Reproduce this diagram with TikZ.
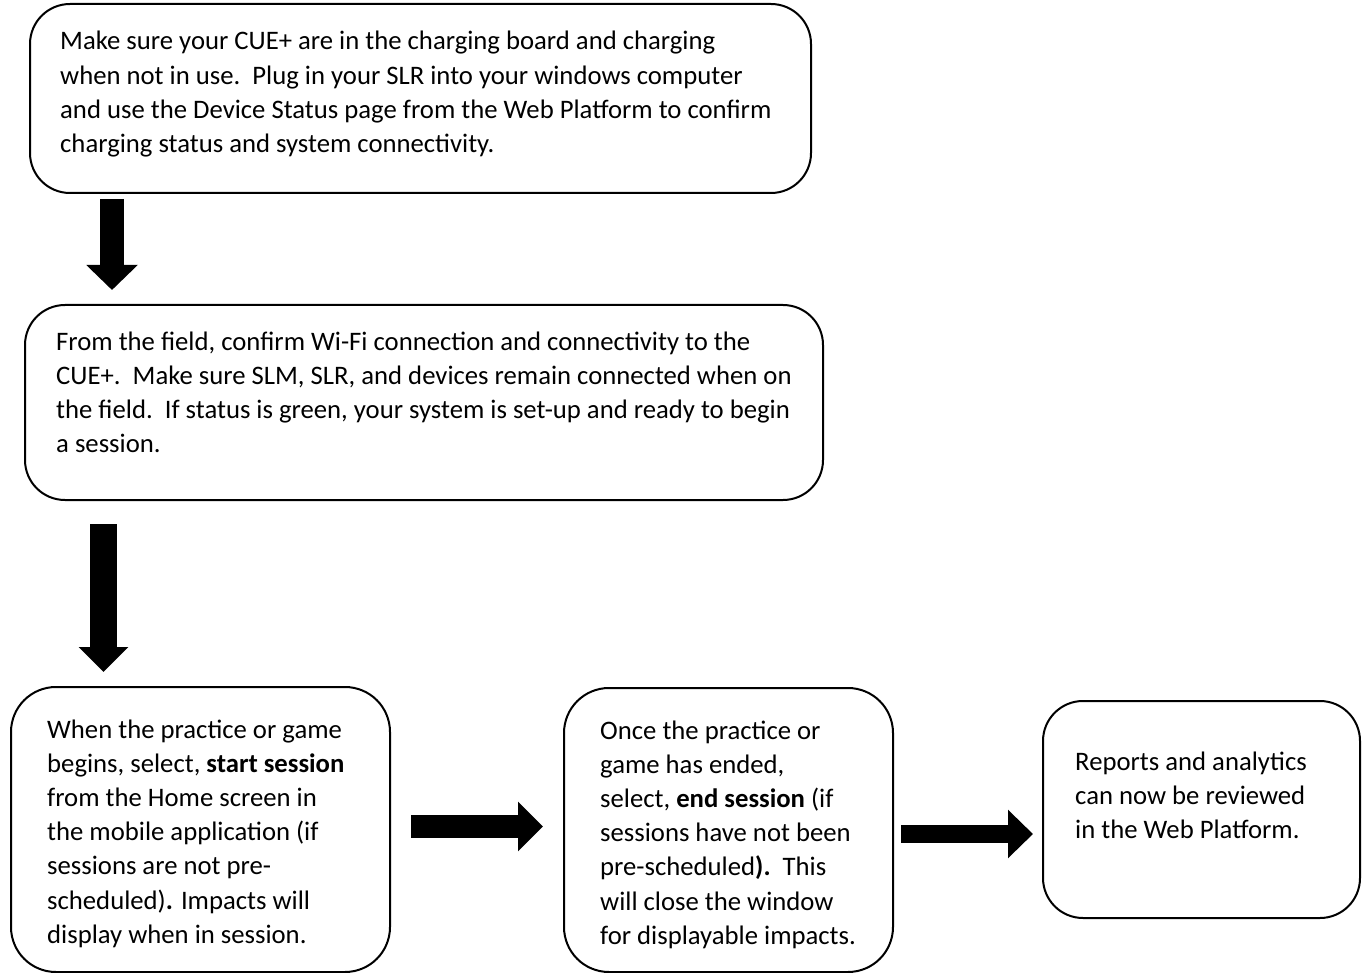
\documentclass[tikz,border=0pt]{standalone}
\usepackage{fontspec}
\setmainfont{Carlito}
\usetikzlibrary{arrows.meta}
\tikzset{
  box/.style={draw=black, line width=2pt, rounded corners=#1, anchor=north west, inner sep=0pt},
  txt/.style={anchor=base west, align=left, inner sep=0pt, font=\fontsize{26.7}{34.2}\selectfont},
  blockarrow/.style n args={3}{line width=#1, -{Triangle[width=#2,length=#3]}}
}
\begin{document}
\begin{tikzpicture}[x=1pt,y=-1pt]
\useasboundingbox (0,0) rectangle (1365,973);
% boxes
\node[box=40pt, minimum width=781pt, minimum height=189pt] (b1) at (29,3) {};
\node[box=40pt, minimum width=798pt, minimum height=195pt] (b2) at (24,304) {};
\node[box=45pt, minimum width=379pt, minimum height=285pt] (b3) at (10,686) {};
\node[box=45pt, minimum width=329pt, minimum height=284pt] (b4) at (563,687) {};
\node[box=40pt, minimum width=317pt, minimum height=217pt] (b5) at (1042,700) {};
% texts (anchored at the baseline of the last line)
\node[txt] (t1) at (60,152.6) {Make sure your CUE+ are in the charging board and charging\\
when not in use.\ \ Plug in your SLR into your windows computer\\
and use the Device Status page from the Web Platform to confirm\\
charging status and system connectivity.};
\node[txt] (t2) at (56,452.6) {From the field, confirm Wi-Fi connection and connectivity to the\\
CUE+.\ \ Make sure SLM, SLR, and devices remain connected when on\\
the field.\ \ If status is green, your system is set-up and ready to begin\\
a session.};
\node[txt] (t3) at (47,943.2) {When the practice or game\\
begins, select, \textbf{start session}\\
from the Home screen in\\
the mobile application (if\\
sessions are not pre-\\
scheduled)\textbf{.} Impacts will\\
display when in session.};
\node[txt] (t4) at (600,944.2) {Once the practice or\\
game has ended,\\
select, \textbf{end session} (if\\
sessions have not been\\
pre-scheduled\textbf{).}\ \ This\\
will close the window\\
for displayable impacts.};
\node[txt] (t5) at (1075,838.4) {Reports and analytics\\
can now be reviewed\\
in the Web Platform.};
% arrows
\draw[blockarrow={24pt}{50pt}{25pt}, shorten <=5pt, shorten >=14pt]
  ([xshift=83pt]b1.south west) -- ([xshift=88pt]b2.north west);
\draw[blockarrow={27pt}{48pt}{25pt}, shorten <=23pt, shorten >=14pt]
  ([xshift=79.5pt]b2.south west) -- ([xshift=93.5pt]b3.north west);
\draw[blockarrow={23pt}{48pt}{25pt}, shorten <=20pt, shorten >=20pt]
  (b3.east |- 0,826.5) -- (b4.west |- 0,826.5);
\draw[blockarrow={18pt}{47pt}{25pt}, shorten <=7pt, shorten >=9pt]
  (b4.east |- 0,834) -- (b5.west |- 0,834);
\end{tikzpicture}
\end{document}
